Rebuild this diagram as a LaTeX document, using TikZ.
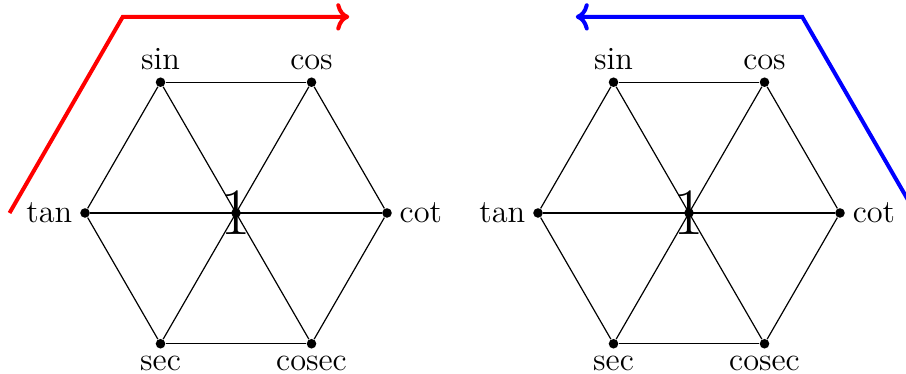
\documentclass[tikz,border=0pt]{standalone}
\usetikzlibrary{arrows.meta}
\begin{document}
\begin{tikzpicture}[
  vdot/.style={circle,fill=black,inner sep=0pt,minimum size=3.6pt},
  edge/.style={draw=black,line width=0.45pt},
  every label/.style={font=\fontsize{12.2}{14.5}\selectfont,inner sep=2.6pt},
  unit/.style={font=\fontsize{25}{30}\selectfont,inner sep=0pt},
  turn/.style={line width=1.5pt,->}
]
\clip (-3.126,-2.132) rectangle (8.874,2.821);

% two identical hexagons, centres at (0,0) and (6,0)
\foreach \p/\cx in {l/0, r/6} {
  \begin{scope}[shift={(\cx,0)}]
    \node[vdot,label=above:sin]   (\p sin) at (120:2) {};
    \node[vdot,label=above:cos]   (\p cos) at (60:2) {};
    \node[vdot,label=left:tan]    (\p tan) at (180:2) {};
    \node[vdot,label=right:cot]   (\p cot) at (0:2) {};
    \node[vdot,label=below:sec]   (\p sec) at (240:2) {};
    \node[vdot,label=below:cosec] (\p csc) at (300:2) {};
    \node[unit] (\p one) at (0,0) {1};
    \node[vdot] (\p o) at (0,0) {};
  \end{scope}
  % outline
  \draw[edge] (\p sin) -- (\p cos);
  \draw[edge] (\p cos) -- (\p cot);
  \draw[edge] (\p cot) -- (\p csc);
  \draw[edge] (\p csc) -- (\p sec);
  \draw[edge] (\p sec) -- (\p tan);
  \draw[edge] (\p tan) -- (\p sin);
  % diagonals through the centre
  \draw[edge] (\p sin) -- (\p csc);
  \draw[edge] (\p cos) -- (\p sec);
  \draw[edge] (\p tan) -- (\p cot);
}

% direction arrows
\coordinate (ra) at (180:3);
\coordinate (rb) at (120:3);
\coordinate (rc) at (60:3);
\draw[turn,red] (ra) -- (rb) -- (rc);

\begin{scope}[shift={(6,0)}]
  \coordinate (ba) at (0:3);
  \coordinate (bb) at (60:3);
  \coordinate (bc) at (120:3);
\end{scope}
\draw[turn,blue] (ba) -- (bb) -- (bc);
\end{tikzpicture}
\end{document}
